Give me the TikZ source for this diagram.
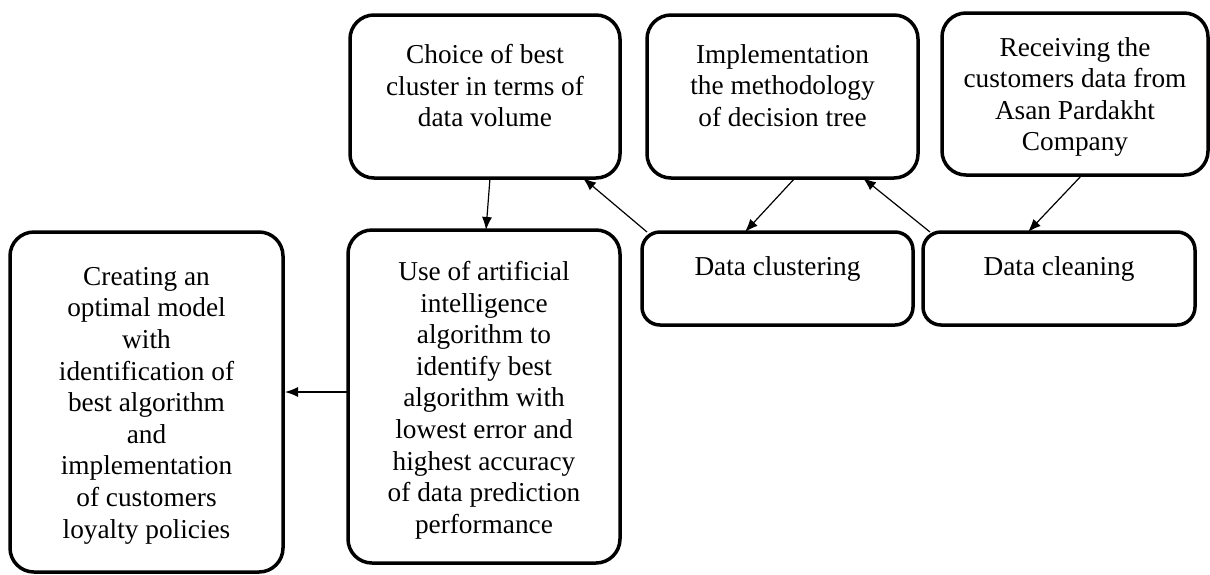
\documentclass[tikz,border=0pt]{standalone}
\usepackage{fontspec}
\setmainfont{Liberation Serif}
\usetikzlibrary{arrows.meta}

\tikzset{
  stepbox/.style={draw=black, line width=3.5pt, rounded corners=24pt,
    inner sep=0pt, outer sep=0pt},
  smallbox/.style={stepbox, rounded corners=18pt},
  boxtext/.style={anchor=north, align=center, inner sep=0pt,
    font=\fontsize{27.3pt}{31.6pt}\selectfont},
  link/.style={line width=1.2pt, -{Latex[length=13pt,width=10pt]}}
}

\begin{document}
\begin{tikzpicture}[x=1pt, y=-1pt]
  \useasboundingbox (0,0) rectangle (1210,574);

  % process boxes
  \node[stepbox, minimum width=273pt, minimum height=340pt] (create) at (146.5,402) {};
  \node[stepbox, minimum width=272pt, minimum height=333pt] (ai) at (484,396.5) {};
  \node[stepbox, minimum width=270pt, minimum height=163pt] (choice) at (485,96.5) {};
  \node[stepbox, minimum width=271pt, minimum height=163pt] (impl) at (782.5,96.5) {};
  \node[stepbox, minimum width=266pt, minimum height=162pt] (recv) at (1075,94) {};
  \node[smallbox, minimum width=271pt, minimum height=93pt] (clus) at (777.5,278.5) {};
  \node[smallbox, minimum width=272pt, minimum height=93pt] (clean) at (1059,278.5) {};

  % box labels, set near the top of each box
  \node[boxtext] (tcreate) at (146.5,267) {Creating an\\optimal model\\with\\identification of\\best algorithm\\and\\implementation\\of customers\\loyalty policies};
  \node[boxtext] (tai) at (484,261) {Use of artificial\\intelligence\\algorithm to\\identify best\\algorithm with\\lowest error and\\highest accuracy\\of data prediction\\performance};
  \node[boxtext] (tchoice) at (485,44) {Choice of best\\cluster in terms of\\data volume};
  \node[boxtext] (timpl) at (782.5,44) {Implementation\\the methodology\\of decision tree};
  \node[boxtext] (trecv) at (1075,37) {Receiving the\\customers data from\\Asan Pardakht\\Company};
  \node[boxtext] (tclus) at (777.5,256) {Data clustering};
  \node[boxtext] (tclean) at (1059,256) {Data cleaning};

  % flow between the steps
  \draw[link] ([xshift=7pt]recv.south) -- ([xshift=-31pt]clean.north);
  \draw[link] ([xshift=7pt]clean.north west) -- ([xshift=-55pt]impl.south east);
  \draw[link] ([xshift=12.5pt]impl.south) -- ([xshift=-32.5pt]clus.north);
  \draw[link] ([xshift=5pt]clus.north west) -- ([xshift=-37pt]choice.south east);
  \draw[link] ([xshift=5pt]choice.south) -- ([xshift=2pt]ai.north);
  \draw[link] ([yshift=4.5pt]ai.west) -- ([yshift=10pt,xshift=2pt]create.east);
\end{tikzpicture}
\end{document}
